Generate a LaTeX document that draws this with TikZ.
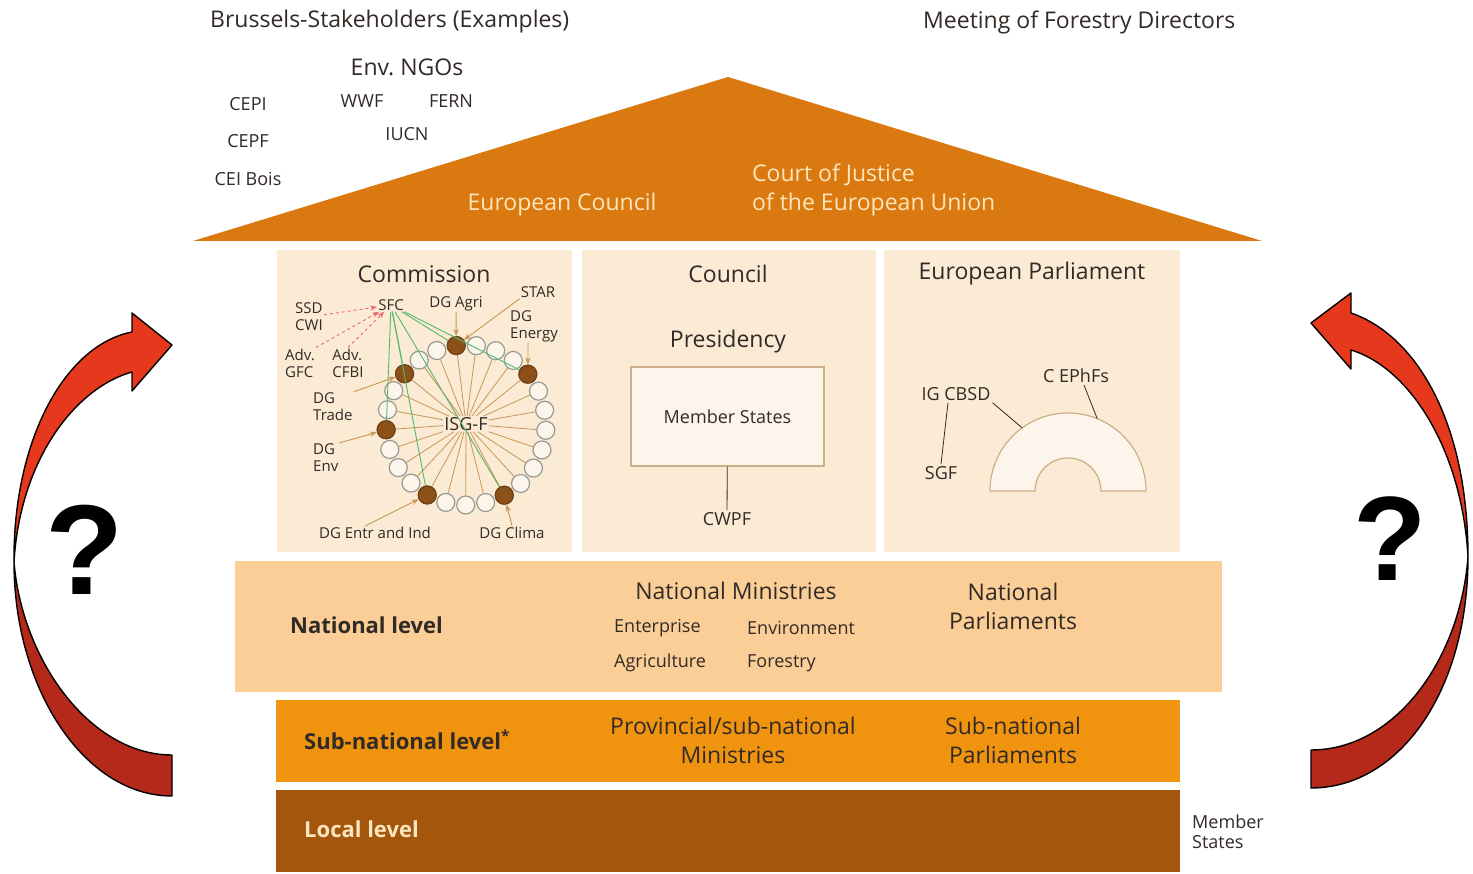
\documentclass[tikz,border=0pt]{standalone}
\usepackage{fontspec}
\setmainfont{Open Sans}
\newfontfamily\qfont{Liberation Sans}
\usepackage{xcolor}
\usetikzlibrary{positioning, arrows.meta}

\definecolor{ink}{RGB}{50,42,38}
\definecolor{roof}{RGB}{217,121,15}
\definecolor{rooftext}{RGB}{253,230,190}
\definecolor{panel}{RGB}{251,234,212}
\definecolor{boxfill}{RGB}{253,245,235}
\definecolor{boxline}{RGB}{205,175,135}
\definecolor{natl}{RGB}{250,206,150}
\definecolor{subn}{RGB}{240,148,16}
\definecolor{local}{RGB}{163,86,12}
\definecolor{tan}{RGB}{200,150,85}
\definecolor{dgbrown}{RGB}{140,80,25}
\definecolor{ringgray}{RGB}{150,155,145}
\definecolor{sfcgreen}{RGB}{80,185,110}
\definecolor{advred}{RGB}{235,105,115}
\definecolor{arrowlight}{RGB}{229,56,28}
\definecolor{arrowdark}{RGB}{181,41,26}

\begin{document}
\begin{tikzpicture}[x=1pt, y=1pt, >=Stealth, inner sep=2pt,
    every node/.style={text=ink},
    lbl/.style={font=\fontsize{23}{29}\selectfont},
    head/.style={font=\fontsize{22}{29}\selectfont\bfseries},
    sml/.style={font=\fontsize{18}{20}\selectfont},
    tiny/.style={font=\fontsize{15}{17}\selectfont, inner sep=1pt},
    panel/.style={fill=panel, minimum width=295pt, minimum height=302pt, inner sep=0pt},
    band/.style={minimum width=904pt, minimum height=82pt, inner sep=0pt},
    ring/.style={circle, draw=ringgray, fill=boxfill, line width=1.2pt, minimum size=18pt, inner sep=0pt},
    dg/.style={ring, fill=dgbrown, draw=dgbrown!80!black},
    spoke/.style={draw=tan, line width=0.8pt},
    link/.style={draw=sfcgreen, line width=0.9pt},
    point/.style={->, draw=tan, line width=0.9pt},
    adv/.style={->, draw=advred, dashed, line width=0.9pt},
    pin/.style={draw=ink, line width=0.8pt},
    bigarrow/.style={draw=black, line width=1.4pt, line join=round}]

  \useasboundingbox (0,0) rectangle (1473,874);
  \fill[white] (0,0) rectangle (1473,874);

  % stakeholders above the roof
  \node[lbl, anchor=west] (bxl) at (208,852) {Brussels-Stakeholders (Examples)};
  \node[lbl, anchor=west] (mfd) at (921,852) {Meeting of Forestry Directors};
  \node[lbl] (ngo) at (407,807) {Env.\ NGOs};
  \node[sml] (cepi) at (248,770) {CEPI};
  \node[sml] (cepf) at (248,733) {CEPF};
  \node[sml] (ceib) at (248,695) {CEI Bois};
  \node[sml] (wwf) at (362,773) {WWF};
  \node[sml] (fern) at (451,773) {FERN};
  \node[sml] (iucn) at (407,740) {IUCN};

  % roof
  \fill[roof] (193,633) -- (728,797) -- (1262,633) -- cycle;
  \node[lbl, text=rooftext] (euco) at (562,669) {European Council};
  \node[lbl, text=rooftext, anchor=west, align=left] (cjeu) at (750,684) {Court of Justice\\of the European Union};

  % the three institutions
  \node[panel] (comm) at (424.5,473) {};
  \node[panel, minimum width=294pt] (coun) at (729,473) {};
  \node[panel, minimum width=296pt] (ep) at (1032,473) {};
  \node[lbl] (commT) at (424,600) {Commission};
  \node[lbl] (counT) at (728,600) {Council};
  \node[lbl] (epT) at (1032,600) {European Parliament};

  % Commission: ISG-F and the ring of DGs
  \coordinate (hub) at (466,449);
  \foreach \k in {0,...,24}
    \node[ring] (c\k) at ([shift={({97-14.4*\k}:80)}]hub) {};
  \foreach \k in {0,4,11,15,19,22}
    \node[dg] (d\k) at (c\k) {};
  \node[tiny, font=\fontsize{18}{20}\selectfont] (isg) at (466,450) {ISG-F};
  \foreach \k in {0,...,24}
    \draw[spoke] (isg) -- (c\k);

  \node[tiny] (sfc) at (391,569) {SFC};
  \foreach \k in {0,4,11,15,19,22}
    \draw[link] (sfc) -- (d\k);

  \node[tiny] (agri) at (456,570) {DG Agri};
  \node[tiny] (star) at (538,582) {STAR};
  \node[tiny, anchor=west, align=left] (energy) at (509,548) {DG\\Energy};
  \node[tiny, anchor=west, align=left] (trade) at (312,467) {DG\\Trade};
  \node[tiny, anchor=west, align=left] (env) at (312,416) {DG\\Env};
  \node[tiny] (entr) at (375,341) {DG Entr and Ind};
  \node[tiny] (clima) at (512,341) {DG Clima};
  \node[tiny, anchor=west, align=left] (ssd) at (294,557) {SSD\\CWI};
  \node[tiny, align=left] (gfc) at (300,511) {Adv.\\GFC};
  \node[tiny, align=left] (cfbi) at (348,511) {Adv.\\CFBI};

  \draw[point] (agri) -- (d0);
  \draw[point] (star.south west) -- (d0);
  \draw[point] ([xshift=-6pt]energy.south) -- (d4);
  \draw[point] (trade.north east) -- (d22);
  \draw[point] (env.north east) -- (d19);
  \draw[point] ([xshift=-10pt]entr.north) -- (d15);
  \draw[point] (clima.north) -- (d11);
  \draw[adv] (ssd) -- (sfc);
  \draw[adv] (gfc.north east) -- (sfc);
  \draw[adv] (cfbi.north) -- (sfc);

  % Council
  \node[lbl] (pres) at (728,532) {Presidency};
  \node[draw=boxline, fill=boxfill, line width=1.2pt, minimum width=193pt, minimum height=99pt,
        font=\fontsize{18}{20}\selectfont] (ms) at (727.5,457.5) {Member States};
  \node[sml] (cwpf) at (727,355) {CWPF};
  \draw[pin] (ms) -- (cwpf);

  % European Parliament
  \coordinate (hemi) at (1068,383);
  \draw[draw=boxline, fill=boxfill, line width=1.2pt]
    ([shift={(180:78)}]hemi) arc[start angle=180, end angle=0, radius=78]
    -- ([shift={(0:33)}]hemi) arc[start angle=0, end angle=180, radius=33] -- cycle;
  \coordinate (hemiA) at ([shift={(126:78)}]hemi);
  \coordinate (hemiB) at ([shift={(68:78)}]hemi);
  \node[sml] (igcbsd) at (956,480) {IG CBSD};
  \node[sml] (cephfs) at (1076,498) {C EPhFs};
  \node[sml] (sgf) at (941,401) {SGF};
  \draw[pin] (igcbsd.south east) -- (hemiA);
  \draw[pin] ([xshift=8pt]cephfs.south) -- (hemiB);
  \draw[pin] ([xshift=-8pt]igcbsd.south) -- (sgf.north);

  % levels in the Member States
  \node[band, fill=natl, minimum width=987pt, minimum height=131pt] (natl) at (728.5,247.5) {};
  \node[band, fill=subn] (subn) at (728,133) {};
  \node[band, fill=local] (local) at (728,43) {};

  \node[head, anchor=west] (natlT) at (288,249) {National level};
  \node[lbl] (nmin) at (736,283) {National Ministries};
  \node[sml, anchor=west] (ent) at (612,246) {Enterprise};
  \node[sml, anchor=west] (envm) at (745,246) {Environment};
  \node[sml, anchor=west] (agr) at (612,211) {Agriculture};
  \node[sml, anchor=west] (fst) at (745,211) {Forestry};
  \node[lbl, align=center] (npar) at (1013,268) {National\\Parliaments};

  \node[head, anchor=west] (subT) at (302,134) {Sub-national level\textsuperscript{*}};
  \node[lbl, align=center] (pmin) at (733,134) {Provincial/sub-national\\Ministries};
  \node[lbl, align=center] (spar) at (1013,134) {Sub-national\\Parliaments};

  \node[head, text=rooftext, anchor=west] (locT) at (302,45) {Local level};
  \node[sml, anchor=west, align=left] (msT) at (1190,42) {Member\\States};

  % curved arrows on both sides
  \filldraw[bigarrow, fill=arrowdark] (14,312) .. controls (14,184) and (85,78) .. (172,78)
    -- (172,119) .. controls (90,119) and (22,214) .. (14,312) -- cycle;
  \filldraw[bigarrow, fill=arrowlight] (14,312) .. controls (13,434) and (65,529) .. (132,542)
    -- (132,561) -- (172,529) -- (132,483) -- (132,502)
    .. controls (75,486) and (20,414) .. (14,312) -- cycle;

  \filldraw[bigarrow, fill=arrowdark] (1468,317) .. controls (1468,184) and (1400,86) .. (1311,86)
    -- (1311,124) .. controls (1395,124) and (1460,214) .. (1468,317) -- cycle;
  \filldraw[bigarrow, fill=arrowlight] (1468,317) .. controls (1468,454) and (1415,539) .. (1351,561)
    -- (1351,581) -- (1311,551) -- (1351,505) -- (1351,524)
    .. controls (1410,506) and (1462,424) .. (1468,317) -- cycle;

  \node[font=\qfont\bfseries\fontsize{128}{128}\selectfont, text=black] (qleft) at (85,324) {?};
  \node[font=\qfont\bfseries\fontsize{120}{120}\selectfont, text=black] (qright) at (1390,335) {?};
\end{tikzpicture}
\end{document}
